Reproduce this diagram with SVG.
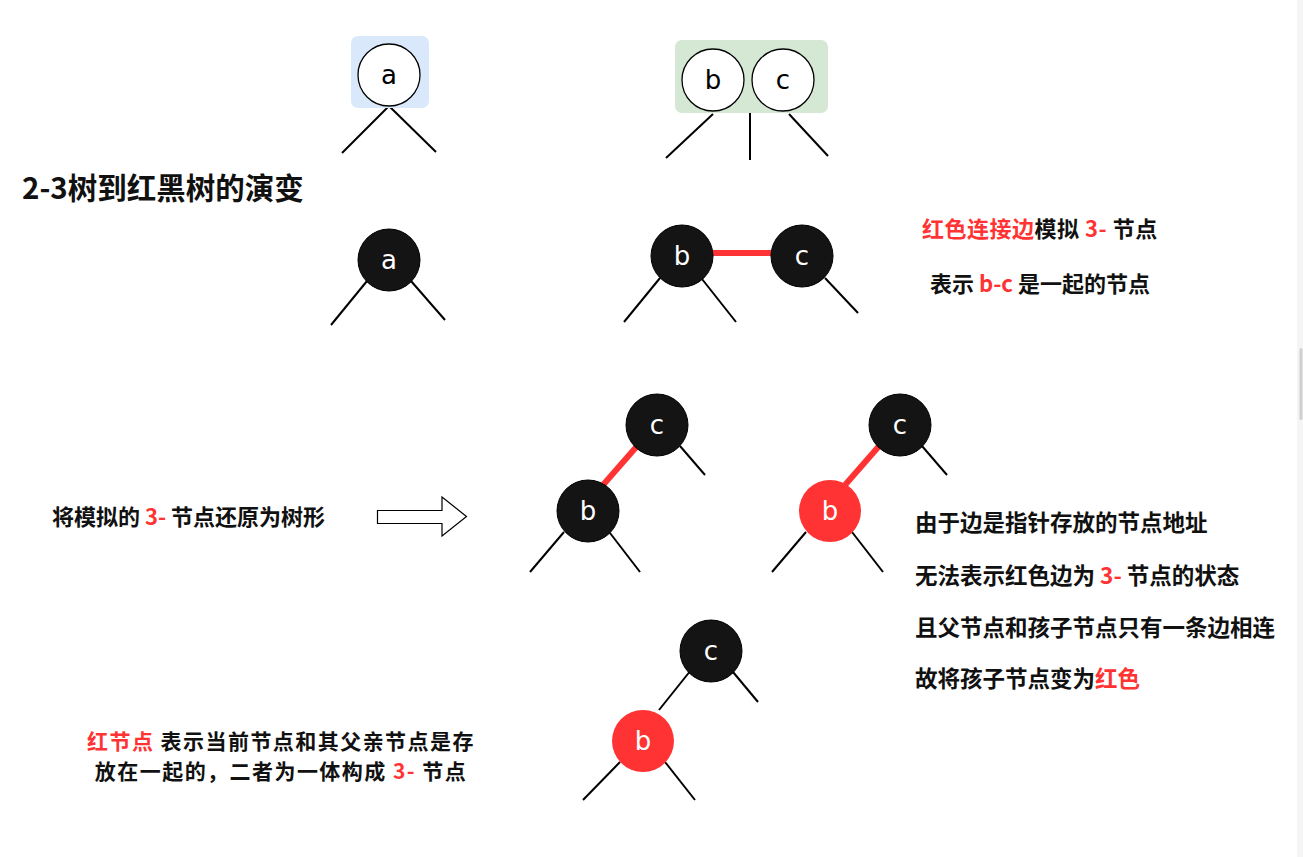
<svg xmlns="http://www.w3.org/2000/svg" width="1303" height="857" viewBox="0 0 1303 857">
<style>
.t{font-family:"Noto Sans CJK SC","Liberation Sans",sans-serif;font-weight:bold;fill:#111;}
.r{fill:#ff3333;}
.lbl{font-family:"DejaVu Sans","Liberation Sans",sans-serif;font-size:26px;text-anchor:middle;}
.wn{fill:#fff;stroke:#000;stroke-width:1.3;}
.bn{fill:#141414;stroke:#000;stroke-width:1;}
.rn{fill:#ff3333;stroke:none;}
.e{stroke:#000;stroke-width:2;fill:none;}
.re{stroke:#ff3333;stroke-width:6;fill:none;}
</style>
<rect width="1303" height="857" fill="#fff"/>
<rect x="1297" y="0" width="6" height="857" fill="#f5f5f5"/>
<rect x="1299.5" y="348" width="3" height="72" rx="1.5" fill="#d0d0d0"/>

<g id="connectors">
<line class="e" x1="389" y1="106" x2="342" y2="153"/>
<line class="e" x1="389" y1="106" x2="436" y2="152"/>
<line class="e" x1="713" y1="114" x2="666" y2="158"/>
<line class="e" x1="750" y1="113" x2="750" y2="160"/>
<line class="e" x1="789" y1="114" x2="828" y2="156"/>
<line class="e" x1="367" y1="281" x2="331" y2="325"/>
<line class="e" x1="411" y1="281" x2="445" y2="320"/>
<line class="re" x1="712" y1="253" x2="772" y2="253"/>
<line class="e" x1="660" y1="278" x2="624" y2="322"/>
<line class="e" x1="702" y1="279" x2="736" y2="322"/>
<line class="e" x1="825" y1="278" x2="858" y2="313"/>
<line class="re" x1="638" y1="445" x2="603" y2="485"/>
<line class="e" x1="680" y1="446" x2="705" y2="475"/>
<line class="e" x1="564" y1="532" x2="530" y2="572"/>
<line class="e" x1="610" y1="533" x2="640" y2="572"/>
<line class="re" x1="880" y1="445" x2="845" y2="485"/>
<line class="e" x1="922" y1="446" x2="947" y2="475"/>
<line class="e" x1="806" y1="532" x2="772" y2="572"/>
<line class="e" x1="852" y1="532" x2="883" y2="572"/>
<line class="e" x1="691" y1="670" x2="659" y2="710"/>
<line class="e" x1="733" y1="672" x2="758" y2="702"/>
<line class="e" x1="620" y1="762" x2="583" y2="800"/>
<line class="e" x1="665" y1="762" x2="695" y2="800"/>
<polygon points="377.5,510.5 442,510.5 442,497 466.5,516.5 442,536 442,523.5 377.5,523.5" fill="#fff" stroke="#000" stroke-width="1.2"/>
</g>

<g id="node-23-a">
<rect x="351" y="36" width="78" height="72" rx="7" fill="#dae8fc"/>
<circle class="wn" cx="389" cy="75" r="31"/>
<text class="lbl" x="389" y="84" fill="#000">a</text>
</g>
<g id="node-23-bc">
<rect x="675" y="40" width="153" height="73" rx="7" fill="#d5e8d4"/>
<circle class="wn" cx="713" cy="80" r="31"/>
<text class="lbl" x="713" y="89" fill="#000">b</text>
<circle class="wn" cx="783" cy="80" r="31"/>
<text class="lbl" x="783" y="89" fill="#000">c</text>
</g>

<g id="title"><text class="t" x="22" y="199" font-size="29.5">2-3树到红黑树的演变</text></g>

<g id="rb-a">
<circle class="bn" cx="389" cy="260" r="31"/>
<text class="lbl" x="389" y="269" fill="#fff">a</text>
</g>
<g id="rb-b1">
<circle class="bn" cx="682" cy="256" r="31"/>
<text class="lbl" x="682" y="265" fill="#fff">b</text>
</g>
<g id="rb-c1">
<circle class="bn" cx="802" cy="256" r="31"/>
<text class="lbl" x="802" y="265" fill="#fff">c</text>
</g>

<g id="note-1">
<text class="t" x="922" y="237" font-size="22" letter-spacing="0.5"><tspan class="r">红色连接边</tspan>模拟 <tspan class="r">3-</tspan> 节点</text>
<text class="t" x="930" y="292" font-size="22">表示 <tspan class="r">b-c</tspan> 是一起的节点</text>
</g>

<g id="note-2"><text class="t" x="52" y="525" font-size="22">将模拟的 <tspan class="r">3-</tspan> 节点还原为树形</text></g>

<g id="rb-c2">
<circle class="bn" cx="657" cy="425" r="31"/>
<text class="lbl" x="657" y="434" fill="#fff">c</text>
</g>
<g id="rb-b2">
<circle class="bn" cx="588" cy="511" r="31"/>
<text class="lbl" x="588" y="520" fill="#fff">b</text>
</g>
<g id="rb-c3">
<circle class="bn" cx="900" cy="425" r="31"/>
<text class="lbl" x="900" y="434" fill="#fff">c</text>
</g>
<g id="rb-b3">
<circle class="rn" cx="830" cy="511" r="31"/>
<text class="lbl" x="830" y="520" fill="#fff">b</text>
</g>

<g id="note-3">
<text class="t" x="915" y="531" font-size="22.5">由于边是指针存放的节点地址</text>
<text class="t" x="915" y="584" font-size="22.5">无法表示红色边为 <tspan class="r">3-</tspan> 节点的状态</text>
<text class="t" x="915" y="636" font-size="22.5">且父节点和孩子节点只有一条边相连</text>
<text class="t" x="915" y="687" font-size="22.5">故将孩子节点变为<tspan class="r">红色</tspan></text>
</g>

<g id="rb-c4">
<circle class="bn" cx="711" cy="651" r="31"/>
<text class="lbl" x="711" y="660" fill="#fff">c</text>
</g>
<g id="rb-b4">
<circle class="rn" cx="643" cy="741" r="31"/>
<text class="lbl" x="643" y="750" fill="#fff">b</text>
</g>

<g id="note-4">
<text class="t" x="281" y="749" font-size="21" letter-spacing="1.45" text-anchor="middle"><tspan class="r">红节点</tspan> 表示当前节点和其父亲节点是存</text>
<text class="t" x="281" y="779" font-size="21" letter-spacing="1.45" text-anchor="middle">放在一起的，二者为一体构成 <tspan class="r">3-</tspan> 节点</text>
</g>
</svg>
